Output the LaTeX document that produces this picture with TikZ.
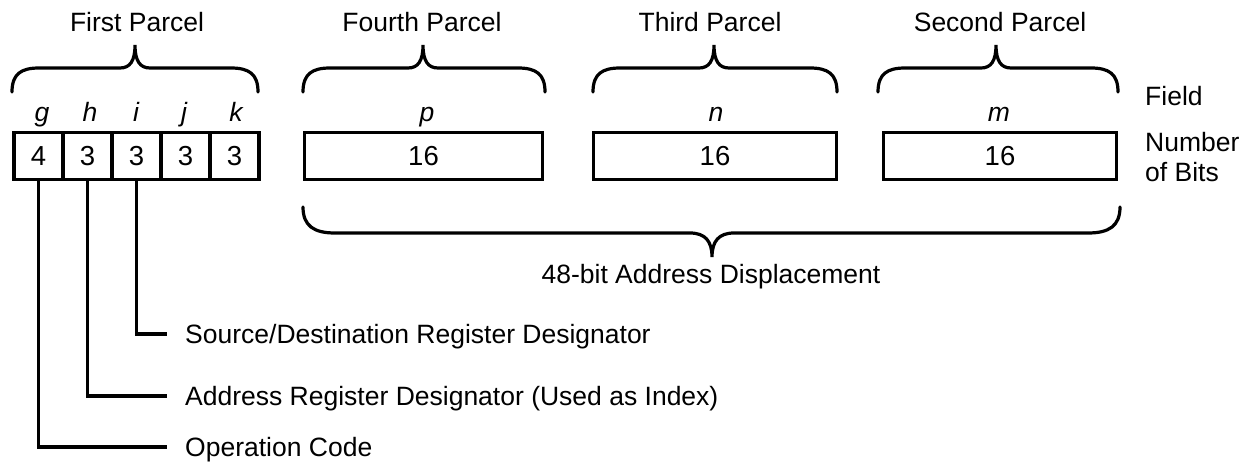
\documentclass[tikz,border=0pt]{standalone}
\usepackage{fontspec}
\setmainfont{Liberation Sans}

% curly brace opening downwards: left x, right x, tip x
\newcommand\parcelbrace[3]{%
  \draw[pen] (#1,92) .. controls (#1,74) and (#1+9,68) .. (#1+27,68)
    -- (#3-15,68) .. controls (#3-5,68) and (#3,61) .. (#3,45)
    .. controls (#3,61) and (#3+5,68) .. (#3+15,68)
    -- (#2-27,68) .. controls (#2-9,68) and (#2,74) .. (#2,92);}
% curly brace opening upwards: left x, right x, tip x
\newcommand\spanbrace[3]{%
  \draw[pen] (#1,207) .. controls (#1,226) and (#1+11,233) .. (#1+32,233)
    -- (#3-22,233) .. controls (#3-7,233) and (#3,241) .. (#3,257)
    .. controls (#3,241) and (#3+7,233) .. (#3+22,233)
    -- (#2-32,233) .. controls (#2-11,233) and (#2,226) .. (#2,207);}

\begin{document}
\begin{tikzpicture}[x=1pt,y=-1pt,
  every node/.style={font=\fontsize{26.5}{30}\selectfont, inner sep=0pt},
  cell/.style={draw, line width=3.2pt, minimum height=47pt, minimum width=49pt,
    font=\fontsize{27.5}{30}\selectfont},
  wide/.style={draw, line width=3.2pt, minimum height=47pt,
    font=\fontsize{27.5}{30}\selectfont},
  field/.style={font=\fontsize{26.5}{30}\selectfont\itshape, anchor=base},
  title/.style={anchor=base},
  pen/.style={line width=3.2pt, line cap=round},
  wire/.style={line width=3.2pt},
  callout/.style={anchor=west, inner xsep=18pt, text height=18.9pt, text depth=0pt}]
\useasboundingbox (0,0) rectangle (1249,465);

% parcel titles
\node[title] (t1) at (137,32) {First Parcel};
\node[title] (t4) at (422,32) {Fourth Parcel};
\node[title] (t3) at (710,32) {Third Parcel};
\node[title] (t2) at (1000,32) {Second Parcel};

% braces over each parcel
\parcelbrace{12}{258}{135}
\parcelbrace{303}{545}{423}
\parcelbrace{593}{837}{714}
\parcelbrace{878}{1118}{996}

% field names
\node[field] (fg) at (42,122) {g};
\node[field] (fh) at (90,122) {h};
\node[field] (fi) at (136,122) {i};
\node[field] (fj) at (184,122) {j};
\node[field] (fk) at (236,122) {k};
\node[field] (fp) at (427,122) {p};
\node[field] (fn) at (716,122) {n};
\node[field] (fm) at (999,122) {m};

% bit-width cells
\node[cell] (g) at (38.5,156) {4};
\node[cell] (h) at (87.5,156) {3};
\node[cell] (i) at (136.5,156) {3};
\node[cell] (j) at (185.5,156) {3};
\node[cell] (k) at (234.5,156) {3};
\node[wide, minimum width=238pt] (p) at (423.5,156) {16};
\node[wide, minimum width=243pt] (n) at (715,156) {16};
\node[wide, minimum width=233pt] (m) at (1000,156) {16};

% legend at the right
\node[anchor=base west] (lfield) at (1145,106) {Field};
\node[anchor=base west] (lbits1) at (1145,152) {Number};
\node[anchor=base west] (lbits2) at (1145,182) {of Bits};

% displacement brace
\spanbrace{303}{1120}{712}
\node[title] (disp) at (711,283) {48-bit Address Displacement};

% field descriptions
\node[callout] (srcdst) at (167,334) {Source/Destination Register Designator};
\node[callout] (areg) at (167,396) {Address Register Designator (Used as Index)};
\node[callout] (opc) at (167,447) {Operation Code};
\draw[wire] (i.south) |- (srcdst.west);
\draw[wire] (h.south) |- (areg.west);
\draw[wire] (g.south) |- (opc.west);
\end{tikzpicture}
\end{document}
